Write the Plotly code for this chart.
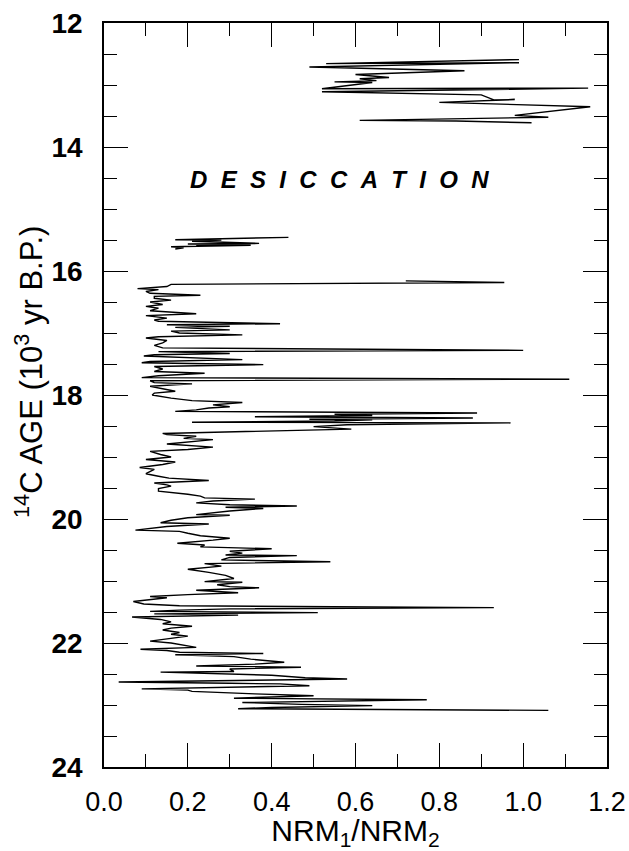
import plotly.graph_objects as go

# NRM1/NRM2 ratio versus radiocarbon age (10^3 yr B.P.), read down-core.
# Upper section (above the desiccation interval)
age_upper = [12.59, 12.655, 12.64, 12.71, 12.77, 12.83, 12.88, 12.90, 12.93, 12.95,
             12.96, 13.06, 13.05, 13.11, 13.16, 13.24, 13.235, 13.28, 13.35, 13.49,
             13.52, 13.57, 13.58, 13.61]
nrm_upper = [0.99, 0.53, 0.99, 0.49, 0.86, 0.60, 0.68, 0.61, 0.65, 0.55,
             0.64, 0.52, 1.155, 0.52, 0.90, 0.93, 0.98, 0.80, 1.16, 0.98,
             1.06, 0.61, 0.84, 1.02]

# Short isolated interval just below the desiccation gap
age_mid = [15.457, 15.495, 15.50, 15.52, 15.555, 15.565, 15.57, 15.58, 15.585,
           15.61, 15.625, 15.645]
nrm_mid = [0.44, 0.17, 0.28, 0.21, 0.37, 0.20, 0.33, 0.22, 0.35,
           0.16, 0.19, 0.17]

# Continuous lower section
age_lower = [
    16.16, 16.17, 16.185, 16.215, 16.25, 16.285, 16.30, 16.33, 16.36, 16.39,
    16.41, 16.44, 16.47, 16.50, 16.54, 16.57, 16.60, 16.64, 16.69, 16.72,
    16.76, 16.79, 16.81, 16.85, 16.866, 16.89, 16.91, 16.95, 16.97, 17.00,
    17.03, 17.06, 17.08, 17.12, 17.16, 17.20, 17.24, 17.28, 17.30, 17.33,
    17.35, 17.37, 17.40, 17.43, 17.46, 17.48, 17.51, 17.54, 17.58, 17.62,
    17.65, 17.69, 17.72, 17.745, 17.77, 17.80, 17.82, 17.86, 17.90, 17.94,
    17.97, 18.00, 18.05, 18.09, 18.12, 18.16, 18.19, 18.21, 18.24, 18.264,
    18.29, 18.31, 18.33, 18.35, 18.37, 18.39, 18.40, 18.42, 18.44, 18.45,
    18.48, 18.51, 18.55, 18.60, 18.62, 18.64, 18.665, 18.70, 18.72, 18.79,
    18.84, 18.88, 18.91, 18.96, 19.00, 19.04, 19.08, 19.12, 19.17, 19.20,
    19.24, 19.27, 19.31, 19.34, 19.38, 19.42, 19.45, 19.47, 19.51, 19.55,
    19.60, 19.63, 19.66, 19.68, 19.71, 19.74, 19.77, 19.79, 19.81, 19.83,
    19.87, 19.90, 19.93, 19.94, 19.98, 20.02, 20.06, 20.08, 20.12, 20.18,
    20.20, 20.23, 20.27, 20.31, 20.34, 20.39, 20.42, 20.45, 20.48, 20.52,
    20.55, 20.58, 20.59, 20.62, 20.66, 20.69, 20.72, 20.76, 20.81, 20.86,
    20.91, 20.96, 21.01, 21.02, 21.06, 21.09, 21.11, 21.15, 21.19, 21.22,
    21.25, 21.27, 21.30, 21.33, 21.37, 21.40, 21.43, 21.45, 21.47, 21.49,
    21.51, 21.53, 21.55, 21.58, 21.62, 21.66, 21.69, 21.73, 21.76, 21.79,
    21.83, 21.86, 21.89, 21.93, 21.97, 22.00, 22.04, 22.07, 22.10, 22.12,
    22.15, 22.17, 22.19, 22.22, 22.26, 22.31, 22.34, 22.37, 22.39, 22.42,
    22.46, 22.47, 22.52, 22.56, 22.58, 22.61, 22.63, 22.65, 22.66, 22.69,
    22.72, 22.74, 22.76, 22.78, 22.82, 22.85, 22.87, 22.89, 22.915, 22.94,
    22.96, 22.99, 23.01, 23.04, 23.06, 23.087,
]
nrm_lower = [
    0.72, 0.80, 0.955, 0.16, 0.15, 0.08, 0.13, 0.10, 0.11, 0.23,
    0.12, 0.12, 0.16, 0.11, 0.14, 0.10, 0.13, 0.11, 0.22, 0.10,
    0.15, 0.12, 0.13, 0.42, 0.15, 0.30, 0.17, 0.30, 0.16, 0.18,
    0.33, 0.13, 0.10, 0.15, 0.14, 0.12, 0.14, 1.00, 0.13, 0.30,
    0.12, 0.095, 0.20, 0.33, 0.11, 0.09, 0.38, 0.12, 0.14, 0.12,
    0.24, 0.13, 0.09, 1.11, 0.11, 0.12, 0.21, 0.11, 0.14, 0.17,
    0.12, 0.115, 0.16, 0.21, 0.33, 0.26, 0.30, 0.25, 0.22, 0.17,
    0.89, 0.55, 0.64, 0.36, 0.88, 0.49, 0.64, 0.55, 0.21, 0.97,
    0.58, 0.50, 0.59, 0.30, 0.14, 0.15, 0.22, 0.19, 0.26, 0.15,
    0.26, 0.20, 0.11, 0.135, 0.16, 0.10, 0.17, 0.14, 0.085, 0.12,
    0.11, 0.10, 0.13, 0.155, 0.25, 0.12, 0.15, 0.16, 0.13, 0.13,
    0.20, 0.23, 0.24, 0.36, 0.26, 0.22, 0.30, 0.46, 0.29, 0.38,
    0.30, 0.26, 0.22, 0.30, 0.20, 0.16, 0.135, 0.25, 0.15, 0.075,
    0.18, 0.20, 0.23, 0.30, 0.26, 0.175, 0.24, 0.23, 0.40, 0.30,
    0.33, 0.29, 0.46, 0.30, 0.28, 0.54, 0.24, 0.28, 0.20, 0.25,
    0.29, 0.31, 0.24, 0.33, 0.27, 0.30, 0.37, 0.22, 0.32, 0.20,
    0.11, 0.15, 0.10, 0.07, 0.095, 0.18, 0.93, 0.30, 0.18, 0.11,
    0.51, 0.12, 0.32, 0.067, 0.135, 0.16, 0.14, 0.21, 0.16, 0.14,
    0.18, 0.16, 0.20, 0.15, 0.11, 0.16, 0.20, 0.22, 0.087, 0.15,
    0.18, 0.38, 0.17, 0.31, 0.35, 0.43, 0.36, 0.22, 0.47, 0.30,
    0.31, 0.135, 0.40, 0.48, 0.58, 0.20, 0.035, 0.30, 0.42, 0.49,
    0.20, 0.09, 0.20, 0.21, 0.36, 0.50, 0.40, 0.31, 0.77, 0.45,
    0.33, 0.47, 0.64, 0.40, 0.32, 1.06,
]

x_ticks = [0.0, 0.2, 0.4, 0.6, 0.8, 1.0, 1.2]
y_ticks = [12, 14, 16, 18, 20, 22, 24]

# Sections joined with None so the line breaks across the gaps
ages = age_upper + [None] + age_mid + [None] + age_lower
nrm = nrm_upper + [None] + nrm_mid + [None] + nrm_lower

FONT = "Liberation Sans, Arial, Helvetica, sans-serif"

fig = go.Figure()
fig.add_trace(go.Scatter(
    x=nrm, y=ages, mode="lines",
    line=dict(color="black", width=1.4),
    connectgaps=False, showlegend=False, hoverinfo="skip",
))

fig.add_annotation(
    x=0.563, y=14.53, xref="x", yref="y",
    text="D\u00a0\u00a0E\u00a0\u00a0S\u00a0\u00a0I\u00a0\u00a0C\u00a0\u00a0C\u00a0\u00a0A\u00a0\u00a0T\u00a0\u00a0I\u00a0\u00a0O\u00a0\u00a0N",
    showarrow=False,
    font=dict(family=FONT, size=24, color="black", weight="bold", style="italic"),
)

# Vertical axis title
fig.add_annotation(
    x=-0.149, y=0.531, xref="paper", yref="paper",
    xanchor="center", yanchor="middle", textangle=-90,
    text="<sup>14</sup>C AGE (10<sup>3</sup> yr B.P.)",
    showarrow=False,
    font=dict(family=FONT, size=31, color="black"),
)

axis_common = dict(
    showline=True, linecolor="black", linewidth=1.5, mirror="allticks",
    ticks="inside", tickcolor="black", tickwidth=1.3, ticklen=24,
    showgrid=False, zeroline=False,
)

fig.update_xaxes(
    range=[0, 1.2], tickmode="array", tickvals=x_ticks,
    ticktext=[f"{v:.1f}" for v in x_ticks],
    minor=dict(dtick=0.1, tick0=0, ticks="inside", ticklen=13,
               tickcolor="black", tickwidth=1.3, showgrid=False),
    tickfont=dict(family=FONT, size=27, color="black"),
    ticklabelstandoff=10,
    title=dict(text="NRM<sub>1</sub>/NRM<sub>2</sub>",
               font=dict(family=FONT, size=30, color="black"), standoff=2),
    **axis_common,
)

fig.update_yaxes(
    range=[24, 12], tickmode="array", tickvals=y_ticks,
    ticktext=[str(v) for v in y_ticks],
    minor=dict(dtick=0.5, tick0=12, ticks="inside", ticklen=13,
               tickcolor="black", tickwidth=1.3, showgrid=False),
    tickfont=dict(family=FONT, size=28, color="black", weight="bold"),
    ticklabelstandoff=14,
    **axis_common,
)

fig.update_layout(
    width=629, height=851,
    margin=dict(l=104, r=22, t=23, b=84, autoexpand=False),
    paper_bgcolor="white", plot_bgcolor="white",
)

fig.write_html("out.html")
